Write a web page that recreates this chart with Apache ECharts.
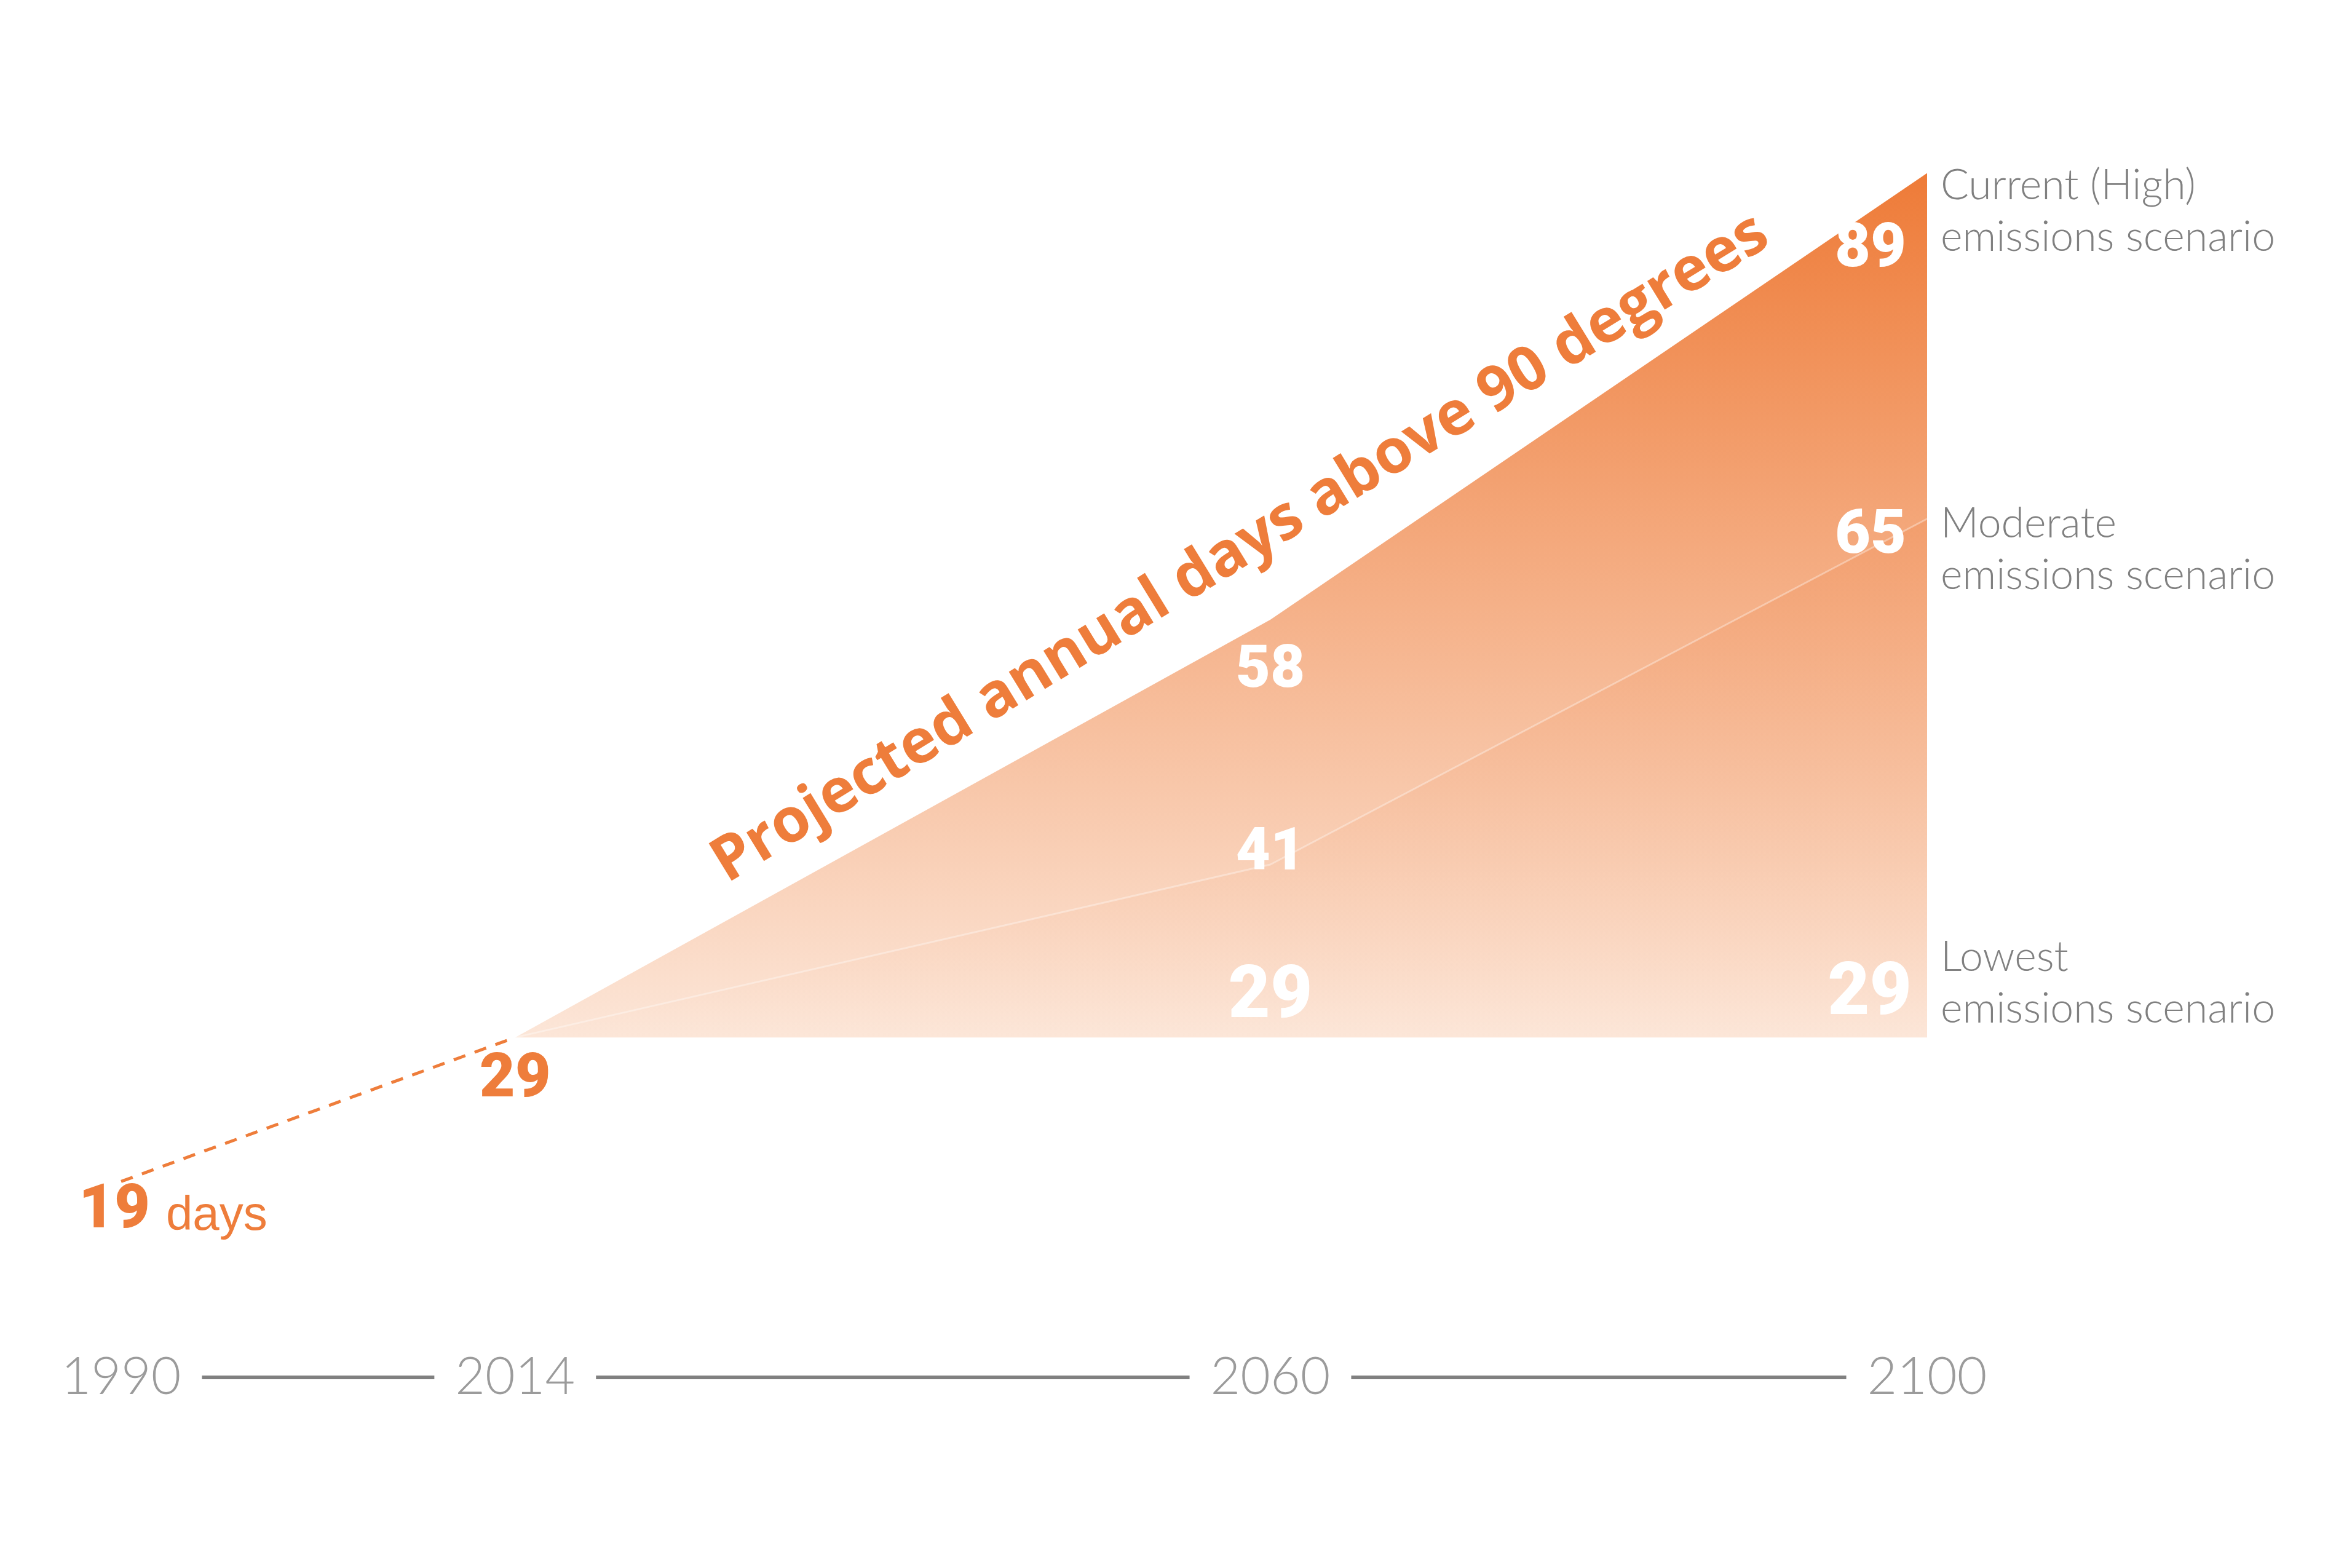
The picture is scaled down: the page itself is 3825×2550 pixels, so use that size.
<!DOCTYPE html>
<html>
<head>
<meta charset="utf-8">
<title>Projected annual days above 90 degrees</title>
<script src="https://cdn.jsdelivr.net/npm/echarts@6/dist/echarts.min.js"></script>
<style>
    html, body { margin: 0; padding: 0; background: #fff; }
    #chart { width: 3825px; height: 2550px; }
</style>
</head>
<body>
<div id="chart"></div>
<script>
    // years shown on the bottom axis
    var tickYears = [1990, 2014, 2060, 2100];
    // observed: 1990 -> 2014
    var pastYears = [1990, 2014];
    var pastDays = [19, 29];
    // projections: 2014 -> 2060 -> 2100
    var projYears = [2014, 2060, 2100];
    var highDays = [29, 58, 89];
    var moderateDays = [29, 41, 65];
    var lowestDays = [29, 29, 29];
    var scenarioNames = [
        'Current (High)\nemissions scenario',
        'Moderate\nemissions scenario',
        'Lowest\nemissions scenario'
    ];
    var areaTitle = 'Projected annual days above 90 degrees';

    var orange = '#ee7d3b';
    var grey = '#808080';
    var numFont = 'Roboto, "DejaVu Sans", sans-serif';
    var lightFont = 'Lato, "Open Sans", sans-serif';

    // white number label sitting on a data point
    function numLabel(size, align, dx, dy) {
        return {
            show: true, position: 'inside', align: align, offset: [dx, dy],
            color: '#fff', fontFamily: numFont, fontWeight: 900, fontSize: size
        };
    }

    function points(xs, ys, labels) {
        return ys.map(function (v, i) {
            var item = {value: [xs[i], v]};
            if (labels[i]) item.label = labels[i];
            return item;
        });
    }

    function scenarioLabel(text, dy) {
        return {
            show: true, formatter: text, distance: 22, offset: [0, dy],
            align: 'left', color: grey, fontFamily: lightFont, fontWeight: 300,
            fontSize: 68, lineHeight: 84
        };
    }

    var chart = echarts.init(document.getElementById('chart'));

    var option = {
        animation: false,
        backgroundColor: '#fff',
        grid: {left: 197, right: 691, top: 141, bottom: 310},
        xAxis: {
            type: 'value', min: 1990, max: 2100,
            splitLine: {show: false},
            axisTick: {show: false},
            axisLine: {show: true, lineStyle: {color: grey, width: 6}},
            axisLabel: {
                customValues: tickYears,
                margin: 0,
                verticalAlign: 'middle',
                color: '#9b9b9b',
                fontFamily: lightFont,
                fontWeight: 300,
                fontSize: 84,
                backgroundColor: '#fff',
                padding: [0, 34],
                formatter: function (v) { return String(v); }
            }
        },
        yAxis: {
            type: 'value', min: 5.4, max: 95, show: false
        },
        series: [
            {
                name: 'high',
                type: 'line',
                z: 2,
                symbol: 'circle', symbolSize: 1,
                itemStyle: {color: 'rgba(0,0,0,0)'},
                lineStyle: {width: 0},
                areaStyle: {
                    origin: 29,
                    opacity: 1,
                    color: new echarts.graphic.LinearGradient(0, 0, 0, 1, [
                        {offset: 0, color: '#ee7b38'},
                        {offset: 1, color: '#fce6d8'}
                    ])
                },
                label: {show: false},
                data: points(projYears, highDays, [
                    null,
                    numLabel(97, 'center', 0, 85),
                    numLabel(100, 'right', -34, 126)
                ]),
                endLabel: scenarioLabel(scenarioNames[0], 63),
                markLine: {
                    silent: true,
                    symbol: 'none',
                    lineStyle: {color: 'rgba(0,0,0,0)', width: 0},
                    label: {
                        show: true, position: 'insideMiddleTop', distance: 12,
                        formatter: areaTitle,
                        padding: [0, 0, 0, 150],
                        color: orange, fontFamily: '"Open Sans", sans-serif',
                        fontWeight: 'bold', fontSize: 100
                    },
                    data: [[{coord: [projYears[0], highDays[0]]},
                            {coord: [projYears[2], highDays[2]]}]]
                }
            },
            {
                name: 'moderate',
                type: 'line',
                z: 3,
                symbol: 'circle', symbolSize: 1,
                itemStyle: {color: 'rgba(0,0,0,0)'},
                lineStyle: {color: 'rgba(255,255,255,0.35)', width: 3},
                areaStyle: {
                    origin: 29,
                    opacity: 1,
                    color: new echarts.graphic.LinearGradient(0, 0, 0, 1, [
                        {offset: 0, color: 'rgba(236,116,50,0.16)'},
                        {offset: 1, color: 'rgba(236,116,50,0)'}
                    ])
                },
                label: {show: false},
                data: points(projYears, moderateDays, [
                    null,
                    numLabel(97, 'center', 0, -16),
                    numLabel(100, 'right', -34, 30)
                ]),
                endLabel: scenarioLabel(scenarioNames[1], 50)
            },
            {
                name: 'lowest',
                type: 'line',
                z: 4,
                symbol: 'circle', symbolSize: 1,
                itemStyle: {color: 'rgba(0,0,0,0)'},
                lineStyle: {width: 0},
                label: {show: false},
                data: points(projYears, lowestDays, [
                    null,
                    numLabel(118, 'center', 0, -63),
                    numLabel(118, 'right', -25, -68)
                ]),
                endLabel: scenarioLabel(scenarioNames[2], -88)
            },
            {
                name: 'past',
                type: 'line',
                z: 5,
                symbol: 'circle', symbolSize: 1,
                itemStyle: {color: 'rgba(0,0,0,0)'},
                lineStyle: {color: orange, width: 5, type: [20, 16]},
                label: {show: false},
                data: points(pastYears, pastDays, [
                    {
                        show: true, position: 'inside', align: 'left', offset: [-69, 50],
                        formatter: '{n|' + pastDays[0] + '}{d|days}',
                        rich: {
                            n: {color: orange, fontFamily: numFont, fontWeight: 900, fontSize: 100, verticalAlign: 'bottom'},
                            d: {color: orange, fontFamily: '"Liberation Sans", Arial, sans-serif', fontSize: 78,
                                verticalAlign: 'bottom', padding: [0, 0, 4, 26]}
                        }
                    },
                    {
                        show: true, position: 'inside', offset: [0, 71],
                        color: orange, fontFamily: numFont, fontWeight: 900, fontSize: 100
                    }
                ])
            }
        ]
    };

    chart.setOption(option);
</script>
</body>
</html>
